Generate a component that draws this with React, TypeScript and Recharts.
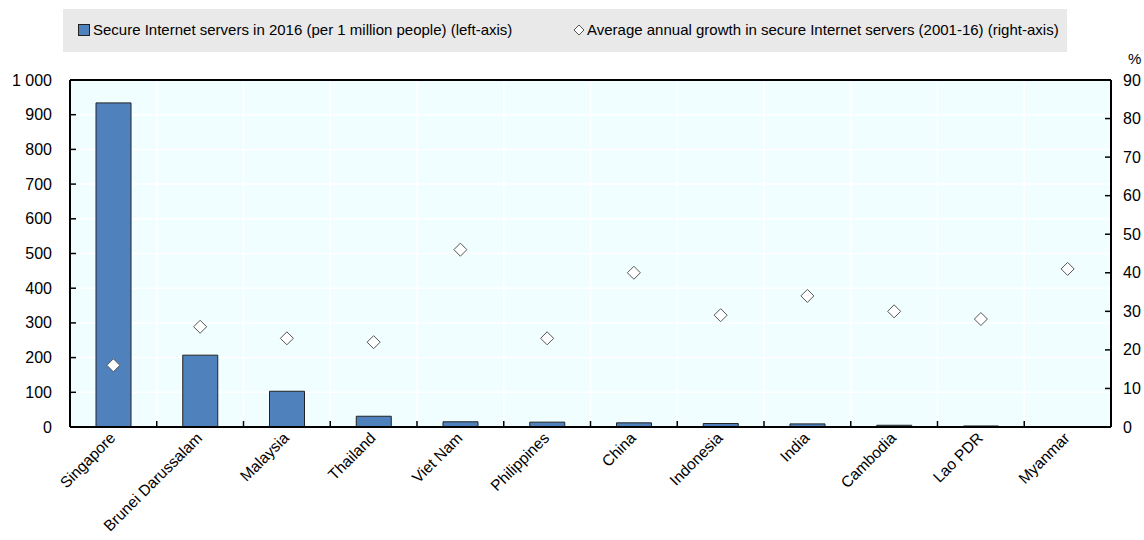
import React from 'react';
import {
  ComposedChart,
  Bar,
  Line,
  XAxis,
  YAxis,
  CartesianGrid,
  ReferenceLine,
} from 'recharts';

const categories = [
  'Singapore',
  'Brunei Darussalam',
  'Malaysia',
  'Thailand',
  'Viet Nam',
  'Philippines',
  'China',
  'Indonesia',
  'India',
  'Cambodia',
  'Lao PDR',
  'Myanmar',
];
const servers = [934, 207, 103, 31, 15, 14, 12, 10, 9, 5, 3, 1];
const growth = [16, 26, 23, 22, 46, 23, 40, 29, 34, 30, 28, 41];
const leftTicks = [0, 100, 200, 300, 400, 500, 600, 700, 800, 900, 1000];
const rightTicks = [0, 10, 20, 30, 40, 50, 60, 70, 80, 90];

const serversLabel = 'Secure Internet servers in 2016 (per 1 million people) (left-axis)';
const growthLabel = 'Average annual growth in secure Internet servers (2001-16) (right-axis)';

const data = categories.map((name, i) => ({ name, servers: servers[i], growth: growth[i] }));

const W = 1144;
const H = 540;
const LEFT_W = 70;
const RIGHT_W = 33;
const X_H = 113;
const TOP = 80;
const BAND = (W - LEFT_W - RIGHT_W) / categories.length;

const FONT = '"Liberation Sans", Arial, sans-serif';
const BAR_BLUE = '#4F81BD';

const fmtThousands = (v: number) => String(v).replace(/\B(?=(\d{3})+(?!\d))/g, ' ');

const LeftTick = (props: any) => {
  const { x, y, payload } = props;
  return (
    <g>
      <line x1={x} x2={x + 6} y1={y} y2={y} stroke="#000" strokeWidth={1.5} />
      <text x={x - 18} y={y} dy={5.5} textAnchor="end" fontSize={16} fill="#000" fontFamily={FONT}>
        {fmtThousands(payload.value)}
      </text>
    </g>
  );
};

const RightTick = (props: any) => {
  const { x, y, payload } = props;
  return (
    <g>
      <line x1={x - 6} x2={x} y1={y} y2={y} stroke="#000" strokeWidth={1.5} />
      <text x={x + 12} y={y} dy={5.5} textAnchor="start" fontSize={16} fill="#000" fontFamily={FONT}>
        {payload.value}
      </text>
    </g>
  );
};

const CategoryTick = (props: any) => {
  const { x, y, payload, index } = props;
  const bx = x - BAND / 2;
  const tx = x + 3;
  const ty = y + 12;
  return (
    <g>
      {index > 0 && <line x1={bx} x2={bx} y1={y} y2={y - 6} stroke="#000" strokeWidth={1.5} />}
      <text
        x={tx}
        y={ty}
        textAnchor="end"
        fontSize={15.5}
        fill="#000"
        fontFamily={FONT}
        transform={`rotate(-45 ${tx} ${ty})`}
      >
        {payload.value}
      </text>
    </g>
  );
};

const Diamond = (props: any) => {
  const { cx, cy, index } = props;
  if (cx == null || cy == null) return <g key={`d-${index}`} />;
  const r = 6.5;
  return (
    <polygon
      key={`d-${index}`}
      points={`${cx},${cy - r} ${cx + r},${cy} ${cx},${cy + r} ${cx - r},${cy}`}
      fill="#fff"
      stroke="#555"
      strokeWidth={1}
    />
  );
};

const ChartLegend = () => (
  <div
    style={{
      position: 'absolute',
      left: 63,
      top: 9,
      width: 1004,
      height: 43,
      background: '#E9E9E9',
      fontFamily: FONT,
      fontSize: 15,
      color: '#000',
    }}
  >
    <div style={{ position: 'absolute', left: 15, top: 12, display: 'flex', alignItems: 'center' }}>
      <span
        style={{
          display: 'inline-block',
          width: 10,
          height: 10,
          background: BAR_BLUE,
          border: '1px solid #222',
          marginRight: 3,
        }}
      />
      <span>{serversLabel}</span>
    </div>
    <div style={{ position: 'absolute', left: 510, top: 12, display: 'flex', alignItems: 'center' }}>
      <svg width={12} height={12} style={{ marginRight: 2 }}>
        <polygon points="6,1 11,6 6,11 1,6" fill="#fff" stroke="#555" strokeWidth={1} />
      </svg>
      <span>{growthLabel}</span>
    </div>
  </div>
);

export default function App() {
  return (
    <div style={{ position: 'absolute', left: 0, top: 0, width: W, height: H, background: '#fff' }}>
      <ChartLegend />
      <div
        style={{ position: 'absolute', left: 1128, top: 50, fontFamily: FONT, fontSize: 15, color: '#000' }}
      >
        %
      </div>
      <ComposedChart
        width={W}
        height={H}
        data={data}
        margin={{ top: TOP, right: 0, bottom: 0, left: 0 }}
        barCategoryGap="30%"
      >
        <CartesianGrid
          yAxisId="left"
          stroke="#fff"
          strokeWidth={1.5}
          fill="#F0FEFF"
          verticalCoordinatesGenerator={({ offset }: any) =>
            categories.slice(1).map((_, i) => offset.left + ((i + 1) * offset.width) / categories.length)
          }
        />
        <XAxis
          dataKey="name"
          height={X_H}
          interval={0}
          tickLine={false}
          tickSize={0}
          tickMargin={0}
          axisLine={{ stroke: '#000', strokeWidth: 2 }}
          tick={<CategoryTick />}
        />
        <YAxis
          yAxisId="left"
          width={LEFT_W}
          domain={[0, 1000]}
          ticks={leftTicks}
          interval={0}
          tickLine={false}
          tickSize={0}
          tickMargin={0}
          axisLine={{ stroke: '#000', strokeWidth: 2 }}
          tick={<LeftTick />}
        />
        <YAxis
          yAxisId="right"
          orientation="right"
          width={RIGHT_W}
          domain={[0, 90]}
          ticks={rightTicks}
          interval={0}
          tickLine={false}
          tickSize={0}
          tickMargin={0}
          axisLine={{ stroke: '#000', strokeWidth: 2 }}
          tick={<RightTick />}
        />
        <ReferenceLine yAxisId="left" y={1000} stroke="#000" strokeWidth={2} />
        <Bar
          yAxisId="left"
          dataKey="servers"
          fill={BAR_BLUE}
          stroke="#222"
          strokeWidth={1}
          barSize={35}
          isAnimationActive={false}
        />
        <Line
          yAxisId="right"
          dataKey="growth"
          stroke="none"
          dot={Diamond}
          activeDot={false}
          legendType="none"
          isAnimationActive={false}
        />
      </ComposedChart>
    </div>
  );
}
